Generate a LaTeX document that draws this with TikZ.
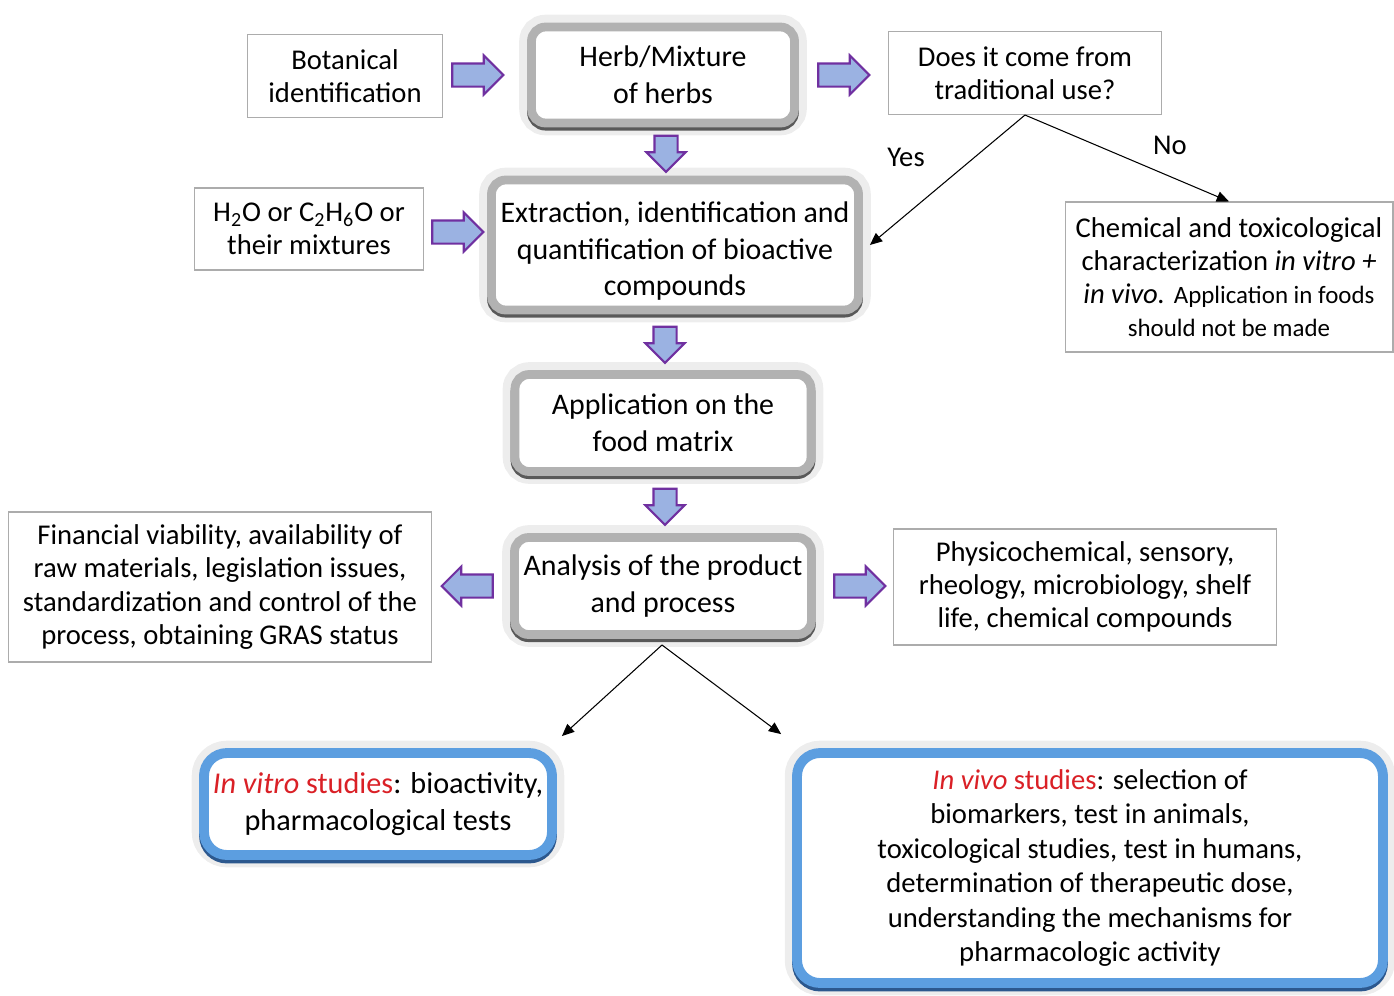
\documentclass[tikz,border=0pt]{standalone}
\usepackage{fontspec}
\setmainfont{Carlito}
\usetikzlibrary{shapes.arrows,positioning,arrows.meta,calc}

\definecolor{arrowfill}{RGB}{155,178,226}
\definecolor{arrowline}{RGB}{112,48,160}
\definecolor{studyred}{RGB}{218,32,38}
\definecolor{bluelight}{RGB}{92,158,224}
\definecolor{bluedark}{RGB}{44,88,142}

\begin{document}
\begin{tikzpicture}[x=0.02cm, y=-0.02cm,
  plain/.style={rectangle, draw=gray!65, line width=0.6pt, fill=white, align=center, inner sep=0pt, font=\fontsize{16.3}{18.9}\selectfont},
  stage/.style={rectangle, rounded corners=8pt, fill=white, draw=gray!60, line width=5pt, align=center, inner sep=0pt, font=\fontsize{17}{20.8}\selectfont,
    preaction={draw=black!7, line width=14pt},
    preaction={draw=black!65, line width=5pt, transform canvas={yshift=-1.8pt}}},
  study/.style={rectangle, rounded corners=13pt, fill=white, draw=bluelight, line width=5.6pt, align=center, inner sep=0pt, font=\fontsize{16.3}{19.6}\selectfont,
    preaction={draw=black!7, line width=14pt},
    preaction={draw=bluedark, line width=5.6pt, transform canvas={yshift=-2pt}}},
  bigarrow/.style={single arrow, draw=arrowline, fill=arrowfill, line width=1.2pt, inner sep=0.21cm, minimum height=1.02cm, single arrow head extend=0.16cm},
  downarrow/.style={bigarrow, minimum height=0.72cm, shape border rotate=270},
  link/.style={-{Triangle[length=7pt, width=6pt]}, line width=0.6pt},
  answer/.style={font=\fontsize{16.3}{19}\selectfont},
]
\useasboundingbox (0,0) rectangle (1394,995);

% === Main column ===
\node[stage, minimum width=5.26cm, minimum height=1.92cm] (herb) at (663,75) {Herb/Mixture\\ of herbs};
\node[stage, minimum width=7.34cm, minimum height=2.6cm] (extract) at (675,245) {\rule{0pt}{19pt}Extraction, identification and\\ quantification of bioactive\\ compounds};
\node[stage, minimum width=5.92cm, minimum height=1.94cm] (apply) at (663,423) {Application on the\\ food matrix};
\node[stage, minimum width=5.94cm, minimum height=1.94cm] (analysis) at (663,586) {Analysis of the product\\ and process};

% === Side boxes ===
\node[plain, minimum width=3.9cm, minimum height=1.66cm] (botany) at (345,76) {Botanical\\ identification};
\node[plain, minimum width=5.46cm, minimum height=1.66cm] (trad) at (1025,73) {Does it come from\\ traditional use?};
\node[plain, minimum width=4.58cm, minimum height=1.64cm] (solvent) at (309,229) {H\textsubscript{2}O or C\textsubscript{2}H\textsubscript{6}O or\\ their mixtures};
\node[plain, minimum width=6.56cm, minimum height=3.0cm] (chem) at (1229,277) {Chemical and toxicological\\ characterization \textit{in vitro +}\\ \textit{in vivo.} {\fontsize{14.2}{17}\selectfont Application in foods}\\ {\fontsize{14.2}{17}\selectfont should not be made}};
\node[plain, minimum width=8.48cm, minimum height=3.0cm] (finance) at (220,587) {Financial viability, availability of\\ raw materials, legislation issues,\\ standardization and control of the\\ process, obtaining GRAS status};
\node[plain, minimum width=7.66cm, minimum height=2.32cm] (physico) at (1085,587) {Physicochemical, sensory,\\ rheology, microbiology, shelf\\ life, chemical compounds};

% === Studies ===
\node[study, minimum width=6.96cm, minimum height=2.04cm, font=\fontsize{17.2}{20.8}\selectfont] (vitro) at (378,804) {\textcolor{studyred}{\textit{In vitro} studies}: bioactivity,\\ pharmacological tests};
\node[study, minimum width=11.72cm, minimum height=4.6cm] (vivo) at (1090,868) {\textcolor{studyred}{\textit{In vivo} studies}: selection of\\ biomarkers, test in animals,\\ toxicological studies, test in humans,\\ determination of therapeutic dose,\\ understanding the mechanisms for\\ pharmacologic activity};

% === Block arrows ===
\node[bigarrow] (a1) at (472,75) {};
\node[bigarrow] (a2) at (838,75) {};
\node[downarrow] (a3) at (666,148) {};
\node[bigarrow] (a4) at (452,232) {};
\node[downarrow] (a5) at (665,339) {};
\node[downarrow] (a6) at (665,501) {};
\node[bigarrow, shape border rotate=180] (a7) at (473,586) {};
\node[bigarrow] (a8) at (854,586) {};

% === Decision ===
\node[answer] (yes) at (906,157) {Yes};
\node[answer] (no) at (1170,145) {No};
\draw[link] (trad.south) -- ([xshift=4pt]extract.east);
\draw[link] (trad.south) -- (chem.north);

% === Split to studies ===
\coordinate (split) at (662,645);
\draw[link] (split) -- ([shift={(5,-12)}]vitro.north east);
\draw[link] (split) -- ([shift={(-11,-14)}]vivo.north west);

\end{tikzpicture}
\end{document}
